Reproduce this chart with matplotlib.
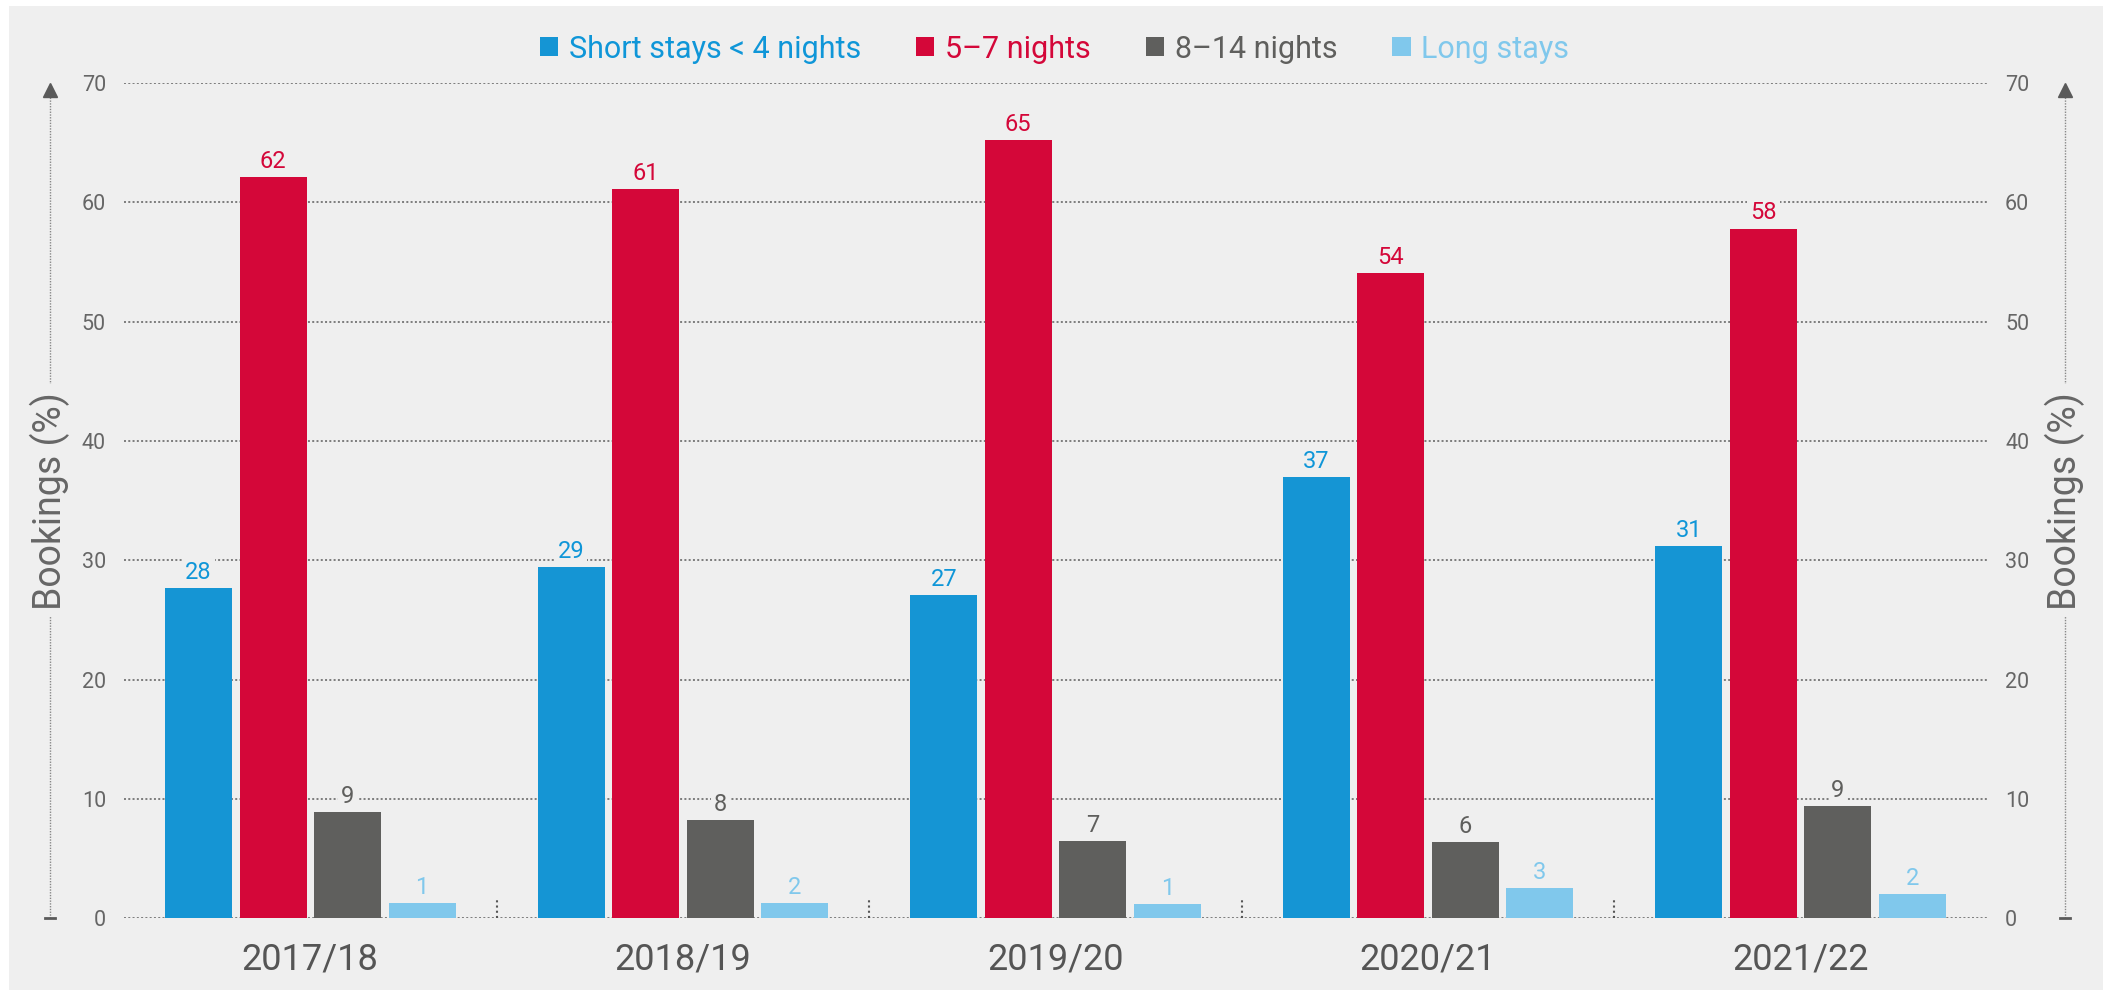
import matplotlib
matplotlib.use('Agg')
import matplotlib.pyplot as plt
from matplotlib.patches import Patch, Rectangle
from matplotlib import transforms
import numpy as np

plt.rcParams['font.family'] = ['Roboto', 'DejaVu Sans']

years = ['2017/18', '2018/19', '2019/20', '2020/21', '2021/22']
series_names = ['Short stays < 4 nights', '5\u20137 nights', '8\u201314 nights', 'Long stays']
short_stays = [27.7, 29.4, 27.1, 37.0, 31.2]
five_to_seven = [62.1, 61.1, 65.2, 54.1, 57.8]
eight_to_fourteen = [8.9, 8.2, 6.5, 6.4, 9.4]
long_stays = [1.3, 1.3, 1.2, 2.5, 2.0]
short_labels = [28, 29, 27, 37, 31]
five_labels = [62, 61, 65, 54, 58]
eight_labels = [9, 8, 7, 6, 9]
long_labels = [1, 2, 1, 3, 2]
y_ticks = [0, 10, 20, 30, 40, 50, 60, 70]

BG = '#efefef'
bar_colors = ['#1595d4', '#d40739', '#5f5f5d', '#80c8ec']
text_colors = ['#0f96d8', '#d40739', '#5f5f5d', '#80c8ec']
GRID = '#5e5e5e'
TXT = '#666666'

fig = plt.figure(figsize=(21.09, 9.92), dpi=100)
fig.patch.set_facecolor('white')
fig.patches.append(Rectangle((9 / 2109, 2 / 992), 2094 / 2109, 984 / 992,
                             transform=fig.transFigure, facecolor=BG, edgecolor='none', zorder=-10))

ax = fig.add_axes([124 / 2109, (992 - 918.3) / 992, 1863 / 2109, 835.3 / 992])
ax.patch.set_alpha(0)
ax.set_xlim(-0.5, 4.5)
ax.set_ylim(0, 70)
for s in ax.spines.values():
    s.set_visible(False)

x = np.arange(len(years))
values = [short_stays, five_to_seven, eight_to_fourteen, long_stays]
labels = [short_labels, five_labels, eight_labels, long_labels]
width = 0.18
offsets = [-0.3, -0.1, 0.1, 0.3]

for yv in y_ticks:
    ax.axhline(yv, color=GRID, lw=1.1, linestyle=(0, (1.3, 1.5)), zorder=1)

for k in range(4):
    ax.bar(x + offsets[k], values[k], width, color=bar_colors[k], zorder=3)
    for xi, v, lb in zip(x + offsets[k], values[k], labels[k]):
        ax.annotate(str(lb), (xi, v), xytext=(0, 3), textcoords='offset points',
                    ha='center', va='bottom', fontsize=17, color=text_colors[k], zorder=4,
                    bbox=dict(boxstyle='square,pad=0.12', facecolor=BG, edgecolor='none'))

# small dotted separators between year groups
ax.vlines(x[:-1] + 0.5, 0, 1.7, color='#555555', lw=1.5, linestyle=(0, (1, 1.5)), zorder=2)

ax.set_yticks(y_ticks)
ax.tick_params(axis='y', length=0, labelsize=15.5, labelcolor=TXT, pad=13,
               labelleft=True, labelright=True)
ax.set_xticks(x)
ax.set_xticklabels(years)
ax.tick_params(axis='x', length=0, labelsize=26, labelcolor='#555555', pad=17)

# dotted arrows with axis titles on both sides
blend = transforms.blended_transform_factory(fig.transFigure, ax.transData)
for xp in [50 / 2109, 2065 / 2109]:
    ax.plot([xp, xp], [0, 69], transform=blend, color='#888888', lw=1,
            linestyle=(0, (1, 1)), clip_on=False, zorder=1)
    ax.plot([xp], [69.4], transform=blend, marker='^', markersize=10, color='#5a5a5a',
            clip_on=False, zorder=2)
    ax.plot([xp - 5 / 2109, xp + 5 / 2109], [0, 0], transform=blend, color='#5a5a5a', lw=2,
            clip_on=False, zorder=2)
    ax.text(xp, 35, 'Bookings (%)', transform=blend, rotation=90, ha='center', va='center',
            fontsize=27, color=TXT, zorder=3,
            bbox=dict(boxstyle='square,pad=0.2', facecolor=BG, edgecolor='none'))

handles = [Patch(facecolor=c, edgecolor='none') for c in bar_colors]
fig.legend(handles, series_names, loc='center', bbox_to_anchor=(0.5, (992 - 49) / 992),
           ncol=4, frameon=False, fontsize=22, labelcolor=text_colors,
           handlelength=0.6, handleheight=0.6, handletextpad=0.35, columnspacing=1.8)

fig.savefig('out.png', dpi=100, facecolor='white')
